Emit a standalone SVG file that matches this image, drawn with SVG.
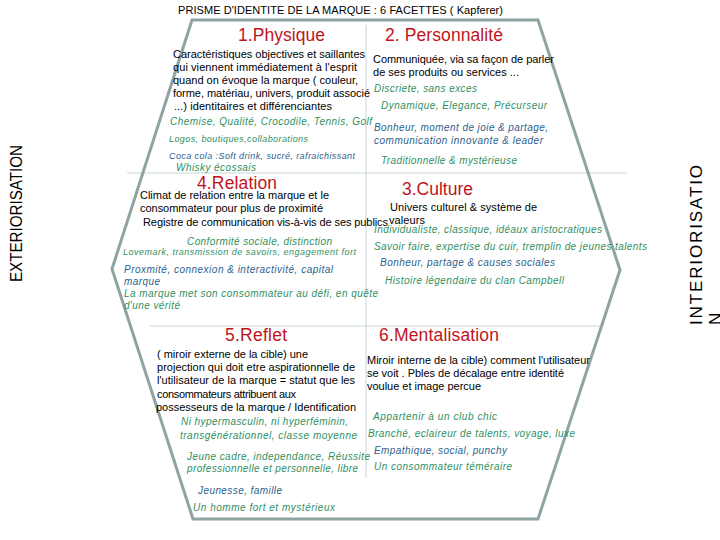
<svg xmlns="http://www.w3.org/2000/svg" width="720" height="540" viewBox="0 0 720 540">
<style>
text{font-family:"Liberation Sans",Arial,sans-serif;}
.ti{font-size:11px;fill:#000}
.bd{font-size:11px;fill:#000}
.h{font-size:17.5px;fill:#c0141c}
.g{font-size:10px;font-style:italic;fill:#2f8f5f}
.b{font-size:10px;font-style:italic;fill:#2b5f8e}
.sm{font-size:9px}
.side{font-size:17px;fill:#000}
.hex{fill:none;stroke:#8fa3a3;stroke-width:3;stroke-linejoin:miter}
.grid{stroke:#c8d6da;stroke-width:1;fill:none}
</style>
<rect width="720" height="540" fill="#fff"/>
<text class="ti" x="178" y="14" textLength="325" lengthAdjust="spacing">PRISME D'IDENTITE DE LA MARQUE : 6 FACETTES ( Kapferer)</text>

<g id="connectors">
<line class="grid" x1="366" y1="25" x2="366" y2="478"/>
<line class="grid" x1="127" y1="173" x2="627" y2="173"/>
<line class="grid" x1="150" y1="326" x2="600" y2="326"/>
<polygon class="hex" points="192,20 538,20 620,270 538,519 193,519 112,269"/>
</g>

<g id="side-labels">
<text class="side" transform="translate(22,282) rotate(-90)" textLength="137" lengthAdjust="spacingAndGlyphs">EXTERIORISATION</text>
<text class="side" transform="translate(702,325) rotate(-90)" textLength="160" lengthAdjust="spacing">INTERIORISATIO</text>
<text class="side" transform="translate(721,325) rotate(-90)">N</text>
</g>

<g id="physique">
<text class="h" x="238" y="41" textLength="87" lengthAdjust="spacing">1.Physique</text>
<text class="bd" x="173" y="58" textLength="192" lengthAdjust="spacing">Caractéristiques objectives et saillantes</text>
<text class="bd" x="173" y="71" textLength="184" lengthAdjust="spacing">qui viennent immédiatement à l'esprit</text>
<text class="bd" x="173" y="84" textLength="185" lengthAdjust="spacing">quand on évoque la marque ( couleur,</text>
<text class="bd" x="173" y="97" textLength="197" lengthAdjust="spacing">forme, matériau, univers, produit associé</text>
<text class="bd" x="174" y="110" textLength="158" lengthAdjust="spacing">...) identitaires et différenciantes</text>
<text class="g" x="170" y="125" textLength="202" lengthAdjust="spacing">Chemise, Qualité, Crocodile, Tennis, Golf</text>
<text class="g sm" x="169" y="142" textLength="139" lengthAdjust="spacing">Logos, boutiques,collaborations</text>
<text class="b sm" x="169" y="159" textLength="186" lengthAdjust="spacing">Coca cola :Soft drink, sucré, rafraichissant</text>
<text class="g" x="176" y="171" textLength="80" lengthAdjust="spacing">Whisky écossais</text>
</g>

<g id="personnalite">
<text class="h" x="385" y="41" textLength="118" lengthAdjust="spacing">2. Personnalité</text>
<text class="bd" x="373" y="63" textLength="181" lengthAdjust="spacing">Communiquée, via sa façon de parler</text>
<text class="bd" x="373" y="76" textLength="146" lengthAdjust="spacing">de ses produits ou services ...</text>
<text class="g" x="374" y="92" textLength="103" lengthAdjust="spacing">Discriete, sans exces</text>
<text class="g" x="381" y="109" textLength="166" lengthAdjust="spacing">Dynamique, Elegance, Précurseur</text>
<text class="b" x="374" y="131" textLength="174" lengthAdjust="spacing">Bonheur, moment de joie &amp; partage,</text>
<text class="b" x="374" y="144" textLength="169" lengthAdjust="spacing">communication innovante &amp; leader</text>
<text class="g" x="381" y="164" textLength="136" lengthAdjust="spacing">Traditionnelle &amp; mystérieuse</text>
</g>

<g id="relation">
<text class="h" x="197" y="189" textLength="80" lengthAdjust="spacing">4.Relation</text>
<text class="bd" x="140" y="199" textLength="189" lengthAdjust="spacing">Climat de relation entre la marque et le</text>
<text class="bd" x="140" y="212" textLength="183" lengthAdjust="spacing">consommateur pour plus de proximité</text>
<text class="bd" x="143" y="226" textLength="245" lengthAdjust="spacing">Registre de communication vis-à-vis de ses publics</text>
<text class="g" x="187" y="245" textLength="145" lengthAdjust="spacing">Conformité sociale, distinction</text>
<text class="g sm" x="123" y="255" textLength="233" lengthAdjust="spacing">Lovemark, transmission de savoirs, engagement fort</text>
<text class="b" x="124" y="273" textLength="209" lengthAdjust="spacing">Proxmité, connexion &amp; interactivité, capital</text>
<text class="b" x="124" y="285" textLength="36" lengthAdjust="spacing">marque</text>
<text class="g" x="124" y="297" textLength="254" lengthAdjust="spacing">La marque met son consommateur au défi, en quête</text>
<text class="g" x="124" y="309" textLength="56" lengthAdjust="spacing">d'une vérité</text>
</g>

<g id="culture">
<text class="h" x="402" y="195" textLength="71" lengthAdjust="spacing">3.Culture</text>
<text class="bd" x="390" y="211" textLength="147" lengthAdjust="spacing">Univers  culturel &amp; système de</text>
<text class="bd" x="389" y="224" textLength="36" lengthAdjust="spacing">valeurs</text>
<text class="g" x="374" y="233" textLength="228" lengthAdjust="spacing">Individualiste, classique, idéaux aristocratiques</text>
<text class="g" x="374" y="250" textLength="273" lengthAdjust="spacing">Savoir faire, expertise du cuir, tremplin de jeunes talents</text>
<text class="b" x="380" y="266" textLength="175" lengthAdjust="spacing">Bonheur, partage &amp; causes sociales</text>
<text class="g" x="385" y="284" textLength="179" lengthAdjust="spacing">Histoire légendaire du clan Campbell</text>
</g>

<g id="reflet">
<text class="h" x="225" y="341" textLength="62" lengthAdjust="spacing">5.Reflet</text>
<text class="bd" x="157" y="358" textLength="151" lengthAdjust="spacing">( miroir externe de la cible) une</text>
<text class="bd" x="157" y="371" textLength="198" lengthAdjust="spacing">projection qui doit etre aspirationnelle de</text>
<text class="bd" x="157" y="384" textLength="198" lengthAdjust="spacing">l'utilisateur de la marque = statut que les</text>
<text class="bd" x="157" y="398" textLength="139" lengthAdjust="spacing">consommateurs attribuent aux</text>
<text class="bd" x="156" y="411" textLength="200" lengthAdjust="spacing">possesseurs de la marque / Identification</text>
<text class="g" x="181" y="425" textLength="167" lengthAdjust="spacing">Ni hypermasculin, ni hyperféminin,</text>
<text class="g" x="180" y="439" textLength="177" lengthAdjust="spacing">transgénérationnel, classe moyenne</text>
<text class="g" x="187" y="460" textLength="183" lengthAdjust="spacing">Jeune cadre, independance, Réussite</text>
<text class="g" x="187" y="472" textLength="171" lengthAdjust="spacing">professionnelle et personnelle, libre</text>
<text class="b" x="198" y="494" textLength="84" lengthAdjust="spacing">Jeunesse, famille</text>
<text class="g" x="193" y="511" textLength="142" lengthAdjust="spacing">Un homme fort et mystérieux</text>
</g>

<g id="mentalisation">
<text class="h" x="379" y="341" textLength="120" lengthAdjust="spacing">6.Mentalisation</text>
<text class="bd" x="367" y="364" textLength="223" lengthAdjust="spacing">Miroir interne de la cible) comment l'utilisateur</text>
<text class="bd" x="367" y="377" textLength="197" lengthAdjust="spacing">se voit . Pbles de décalage entre identité</text>
<text class="bd" x="367" y="390" textLength="114" lengthAdjust="spacing">voulue et image percue</text>
<text class="g" x="373" y="420" textLength="124" lengthAdjust="spacing">Appartenir à un club chic</text>
<text class="g" x="368" y="437" textLength="207" lengthAdjust="spacing">Branché, eclaireur de talents, voyage, luxe</text>
<text class="b" x="374" y="454" textLength="133" lengthAdjust="spacing">Empathique, social, punchy</text>
<text class="g" x="374" y="470" textLength="138" lengthAdjust="spacing">Un consommateur téméraire</text>
</g>
</svg>
